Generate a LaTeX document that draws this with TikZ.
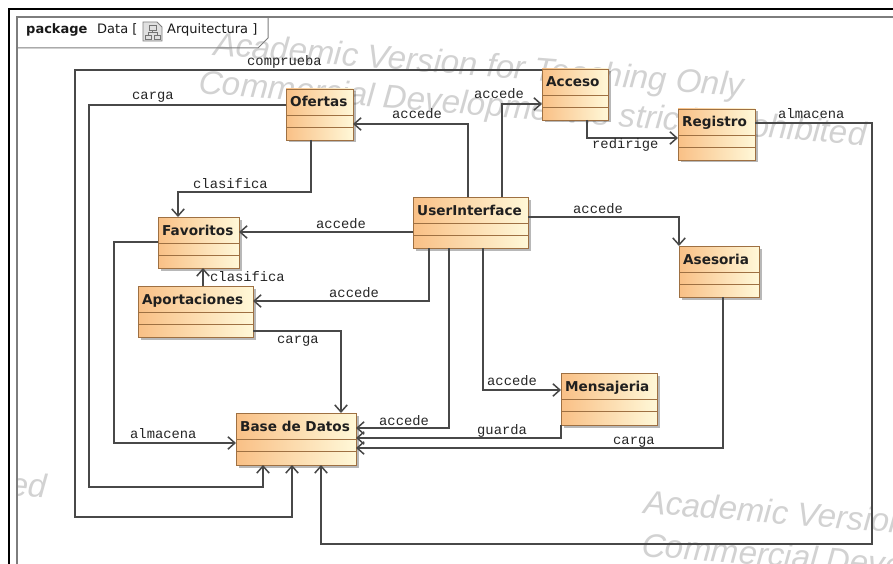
\documentclass[tikz,border=0pt]{standalone}
\usepackage{fontspec}
\setmainfont{DejaVu Sans}
\newfontfamily\clsfont{DejaVu Sans}
\newfontfamily\lblfont{Liberation Mono}
\newfontfamily\wmfont{Liberation Sans}
\usetikzlibrary{arrows.meta,shadows,calc}

\definecolor{clsL}{RGB}{249,192,134}
\definecolor{clsR}{RGB}{255,248,216}
\definecolor{clsBorder}{RGB}{158,112,66}
\definecolor{wireC}{RGB}{72,72,72}
\definecolor{wmC}{RGB}{210,210,210}
\definecolor{frameC}{RGB}{125,125,125}

\tikzset{
  clsbox/.style={draw=clsBorder, line width=0.9pt, left color=clsL, right color=clsR,
    inner sep=0pt, outer sep=0pt,
    drop shadow={shadow xshift=2.5pt, shadow yshift=-2.5pt, fill=black, opacity=0.28}},
  clsname/.style={font=\clsfont\bfseries\fontsize{13.6}{16}\selectfont, inner sep=0pt,
    anchor=base west, text=black!88},
  clsline/.style={draw=clsBorder, line width=0.8pt},
  wire/.style={draw=wireC, line width=1.2pt,
    -{Straight Barb[length=7pt,width=12.5pt,line width=1.5pt]}},
  lbl/.style={font=\lblfont\fontsize{13.8}{16}\selectfont, inner sep=0pt,
    anchor=base west, text=black!85},
  pkgtxt/.style={font=\fontsize{13}{15}\selectfont, inner sep=0pt, anchor=base west, text=black!90},
  wmark/.style={font=\wmfont\itshape\fontsize{33}{38}\selectfont, text=wmC, inner sep=0pt,
    rotate=-4.5},
}

% class box: name, x1, y1, x2, y2, title
\newcommand{\umlclass}[6]{%
  \node[clsbox, minimum width={#4-#2}, minimum height={#5-#3}, anchor=north west] (#1) at (#2,#3) {};
  \node[clsname] (#1-title) at ($(#1.north west)+(4,18)$) {#6};
  \draw[clsline] ($(#1.north west)+(0,26)$) -- ($(#1.north east)+(0,26)$);
  \draw[clsline] ($(#1.north west)+(0,38.5)$) -- ($(#1.north east)+(0,38.5)$);
}

\begin{document}
\begin{tikzpicture}[x=1pt,y=-1pt]
\useasboundingbox (0,0) rectangle (893,564);
\clip (0,0) rectangle (893,564);
\fill[white] (0,0) rectangle (893,564);

% watermark text, kept inside the package area
\begin{scope}
  \clip (17,17) rectangle (893,564);
  \node[wmark, anchor=base west] (wm1) at (213,55) {Academic Version for Teaching Only};
  \node[wmark, anchor=base west] (wm2) at (198,93) {Commercial Development is strictly prohibited};
  \node[wmark, anchor=base east] (wm3) at (46,498) {Commercial Development is strictly prohibited};
  \node[wmark, anchor=base west] (wm4) at (643,513) {Academic Version for Teaching Only};
  \node[wmark, anchor=base west] (wm5) at (641,556) {Commercial Development is strictly prohibited};
\end{scope}

% diagram frame and package frame
\draw[black, line width=2pt] (9,600) -- (9,9) -- (900,9);
\draw[frameC, line width=1.1pt] (17,600) -- (17,17) -- (900,17);
\draw[frameC, line width=1pt] (17,48) -- (258,48) -- (268,38) -- (268,17);

% package header
\node[pkgtxt, font=\bfseries\fontsize{13}{15}\selectfont] (pkgkw) at (26,34) {package};
\node[pkgtxt] (pkgname) at (97,34) {Data [};
\node[pkgtxt] (pkgdiag) at (167,34) {Arquitectura ]};
% diagram icon
\draw[frameC, fill=black!12, line width=0.8pt] (143,22) -- (157,22) -- (162,27) -- (162,41) -- (143,41) -- cycle;
\draw[black!55, line width=0.7pt] (149,25) rectangle (156,30);
\draw[black!55, line width=0.7pt] (145,35) rectangle (151,39);
\draw[black!55, line width=0.7pt] (154,35) rectangle (160,39);
\draw[black!55, line width=0.7pt] (152.5,30) -- (152.5,32.5) -- (148,32.5) -- (148,35);
\draw[black!55, line width=0.7pt] (152.5,32.5) -- (157,32.5) -- (157,35);

% classes
\umlclass{ofertas}{286}{89}{353}{140}{Ofertas}
\umlclass{acceso}{542}{69}{608}{120}{Acceso}
\umlclass{registro}{678}{109}{755}{160}{Registro}
\umlclass{fav}{158}{217}{239}{268}{Favoritos}
\umlclass{aport}{138}{286}{253}{337}{Aportaciones}
\umlclass{ui}{413}{197}{528}{248}{UserInterface}
\umlclass{ases}{679}{246}{759}{297}{Asesoria}
\umlclass{mens}{561}{373}{657}{425}{Mensajeria}
\umlclass{bd}{236}{413}{356}{465}{Base de Datos}

% bend points of the connectors
\coordinate (k1) at (75,70);   \coordinate (k2) at (75,517);  \coordinate (k3) at (292,517);
\coordinate (k4) at (89,105);  \coordinate (k5) at (89,487);  \coordinate (k6) at (263,487);
\coordinate (k7) at (468,124);
\coordinate (k8) at (502,104);
\coordinate (k9) at (587,138);
\coordinate (k10) at (872,123); \coordinate (k11) at (872,544); \coordinate (k12) at (321,544);
\coordinate (k13) at (311,192); \coordinate (k14) at (178,192);
\coordinate (k15) at (413,232);
\coordinate (k16) at (114,242); \coordinate (k17) at (114,443);
\coordinate (k18) at (203,286);
\coordinate (k19) at (429,301);
\coordinate (k20) at (341,331);
\coordinate (k21) at (449,428);
\coordinate (k22) at (483,390);
\coordinate (k23) at (561,438);
\coordinate (k24) at (723,448);
\coordinate (k25) at (679,217);

% connectors
\draw[wire] (acceso.west |- k1) -- (k1) -- (k2) -- (k3) -- (bd.south -| k3);
\draw[wire] (ofertas.west |- k4) -- (k4) -- (k5) -- (k6) -- (bd.south -| k6);
\draw[wire] (ui.north -| k7) -- (k7) -- (ofertas.east |- k7);
\draw[wire] (ui.north -| k8) -- (k8) -- (acceso.west |- k8);
\draw[wire] (acceso.south -| k9) -- (k9) -- (registro.west |- k9);
\draw[wire] (registro.east |- k10) -- (k10) -- (k11) -- (k12) -- (bd.south -| k12);
\draw[wire] (ofertas.south -| k13) -- (k13) -- (k14) -- (fav.north -| k14);
\draw[wire] (ui.west |- k15) -- (fav.east |- k15);
\draw[wire] (fav.west |- k16) -- (k16) -- (k17) -- (bd.west |- k17);
\draw[wire] (aport.north -| k18) -- (fav.south -| k18);
\draw[wire] (ui.south -| k19) -- (k19) -- (aport.east |- k19);
\draw[wire] (aport.east |- k20) -- (k20) -- (bd.north -| k20);
\draw[wire] (ui.south -| k21) -- (k21) -- (bd.east |- k21);
\draw[wire] (ui.south -| k22) -- (k22) -- (mens.west |- k22);
\draw[wire] (mens.south west) -- (k23) -- (bd.east |- k23);
\draw[wire] (ases.south -| k24) -- (k24) -- (bd.east |- k24);
\draw[wire] (ui.east |- k25) -- (k25) -- (ases.north west);

% connector labels
\node[lbl] (l1) at (247,66) {comprueba};
\node[lbl] (l2) at (132,100) {carga};
\node[lbl] (l3) at (392,119) {accede};
\node[lbl] (l4) at (474,99) {accede};
\node[lbl] (l5) at (592,149) {redirige};
\node[lbl] (l6) at (778,119) {almacena};
\node[lbl] (l7) at (193,188) {clasifica};
\node[lbl] (l8) at (316,228) {accede};
\node[lbl] (l9) at (130,438) {almacena};
\node[lbl] (l10) at (210,281) {clasifica};
\node[lbl] (l11) at (329,297) {accede};
\node[lbl] (l12) at (277,343) {carga};
\node[lbl] (l13) at (379,425) {accede};
\node[lbl] (l14) at (487,385) {accede};
\node[lbl] (l15) at (477,434) {guarda};
\node[lbl] (l16) at (613,444) {carga};
\node[lbl] (l17) at (573,213) {accede};
\end{tikzpicture}
\end{document}
